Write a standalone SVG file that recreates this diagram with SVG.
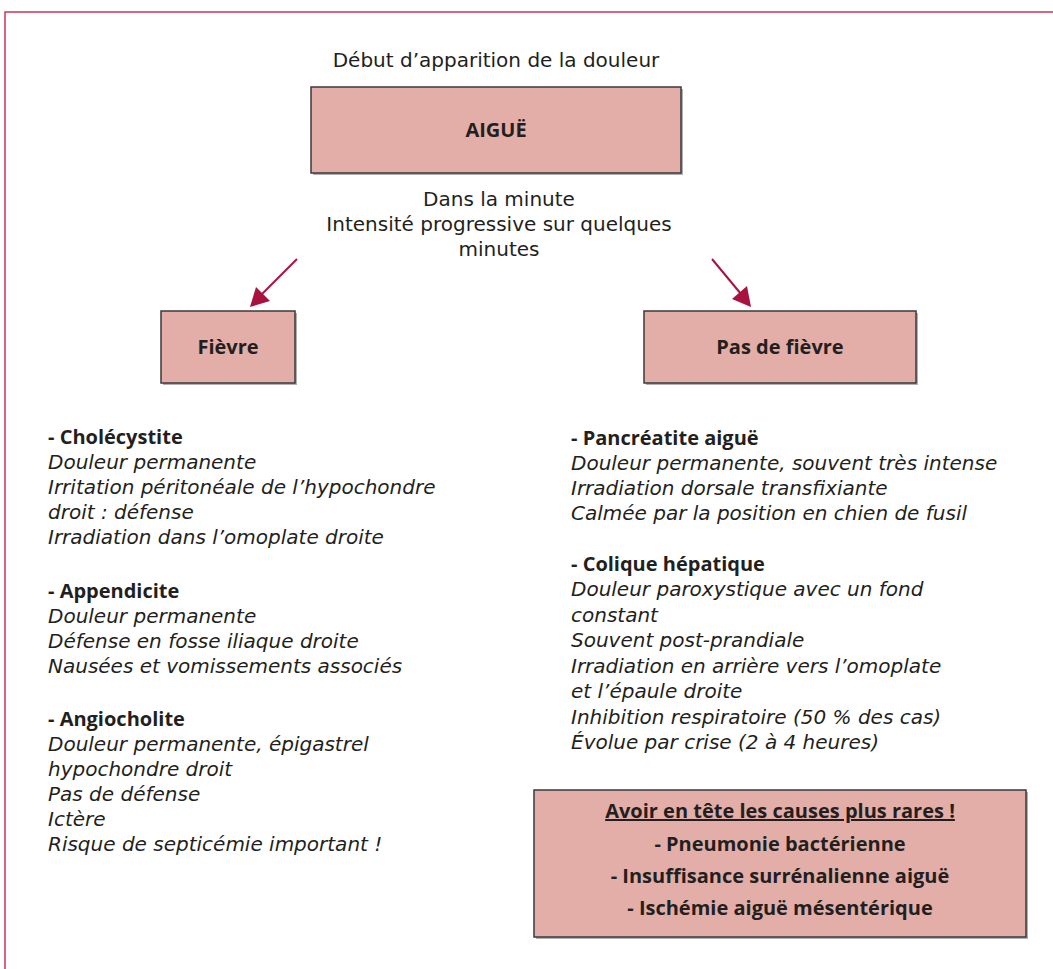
<svg xmlns="http://www.w3.org/2000/svg" width="1053" height="969" viewBox="0 0 1053 969">
<style>
text{font-family:"DejaVu Sans","Open Sans",sans-serif;fill:#231f20;font-size:20px}
.b{font-family:"Open Sans","Noto Sans","DejaVu Sans",sans-serif;font-weight:bold;font-size:20px}
.i{font-style:italic}
.c{text-anchor:middle}
.box{fill:#e3aea8;stroke:#3a3a3a;stroke-width:1.5}
.sh{fill:#b0b0b0}
.arr{stroke:#a8123f;stroke-width:2;fill:none}
</style>
<rect width="1053" height="969" fill="#fff"/>
<path d="M5,975 V12 H1060" fill="none" stroke="#c8365e" stroke-width="1.5"/>
<text class="c" x="496" y="67">Début d’apparition de la douleur</text>
<g id="aigue">
<rect class="sh" x="313" y="89" width="370" height="86"/>
<rect class="box" x="311" y="87" width="370" height="86"/>
<text class="c b" x="496" y="137">AIGUË</text>
</g>
<text class="c" x="499" y="206">Dans la minute</text>
<text class="c" x="499" y="231">Intensité progressive sur quelques</text>
<text class="c" x="499" y="256">minutes</text>
<g id="connectors">
<line class="arr" x1="297" y1="259" x2="262" y2="294"/>
<path d="M250,307 L256,287 L270,301 z" fill="#a8123f"/>
<line class="arr" x1="712" y1="259" x2="741" y2="294"/>
<path d="M751,307 L732,299 L747,286 z" fill="#a8123f"/>
</g>
<g id="fievre">
<rect class="sh" x="163" y="313" width="134" height="72"/>
<rect class="box" x="161" y="311" width="134" height="72"/>
<text class="c b" x="228" y="354">Fièvre</text>
</g>
<g id="pasfievre">
<rect class="sh" x="646" y="313" width="272" height="72"/>
<rect class="box" x="644" y="311" width="272" height="72"/>
<text class="c b" x="780" y="354">Pas de fièvre</text>
</g>
<g id="gauche">
<text class="b" x="48" y="444">- Cholécystite</text>
<text class="i" x="48" y="469">Douleur permanente</text>
<text class="i" x="48" y="494">Irritation péritonéale de l’hypochondre</text>
<text class="i" x="48" y="519">droit : défense</text>
<text class="i" x="48" y="544">Irradiation dans l’omoplate droite</text>
<text class="b" x="48" y="598">- Appendicite</text>
<text class="i" x="48" y="623">Douleur permanente</text>
<text class="i" x="48" y="648">Défense en fosse iliaque droite</text>
<text class="i" x="48" y="673">Nausées et vomissements associés</text>
<text class="b" x="48" y="726">- Angiocholite</text>
<text class="i" x="48" y="751">Douleur permanente, épigastrel</text>
<text class="i" x="48" y="776">hypochondre droit</text>
<text class="i" x="48" y="801">Pas de défense</text>
<text class="i" x="48" y="826">Ictère</text>
<text class="i" x="48" y="851">Risque de septicémie important !</text>
</g>
<g id="droite">
<text class="b" x="571" y="445">- Pancréatite aiguë</text>
<text class="i" x="571" y="470">Douleur permanente, souvent très intense</text>
<text class="i" x="571" y="495">Irradiation dorsale transfixiante</text>
<text class="i" x="571" y="520">Calmée par la position en chien de fusil</text>
<text class="b" x="571" y="571">- Colique hépatique</text>
<text class="i" x="571" y="596">Douleur paroxystique avec un fond</text>
<text class="i" x="571" y="622">constant</text>
<text class="i" x="571" y="647">Souvent post-prandiale</text>
<text class="i" x="571" y="673">Irradiation en arrière vers l’omoplate</text>
<text class="i" x="571" y="698">et l’épaule droite</text>
<text class="i" x="571" y="724">Inhibition respiratoire (50 % des cas)</text>
<text class="i" x="571" y="749">Évolue par crise (2 à 4 heures)</text>
</g>
<g id="rares">
<rect class="sh" x="536" y="792" width="492" height="147"/>
<rect class="box" x="534" y="790" width="492" height="147"/>
<text class="c b" x="780" y="818" text-decoration="underline">Avoir en tête les causes plus rares !</text>
<text class="c b" x="780" y="851">- Pneumonie bactérienne</text>
<text class="c b" x="780" y="883">- Insuffisance surrénalienne aiguë</text>
<text class="c b" x="780" y="915">- Ischémie aiguë mésentérique</text>
</g>
</svg>
